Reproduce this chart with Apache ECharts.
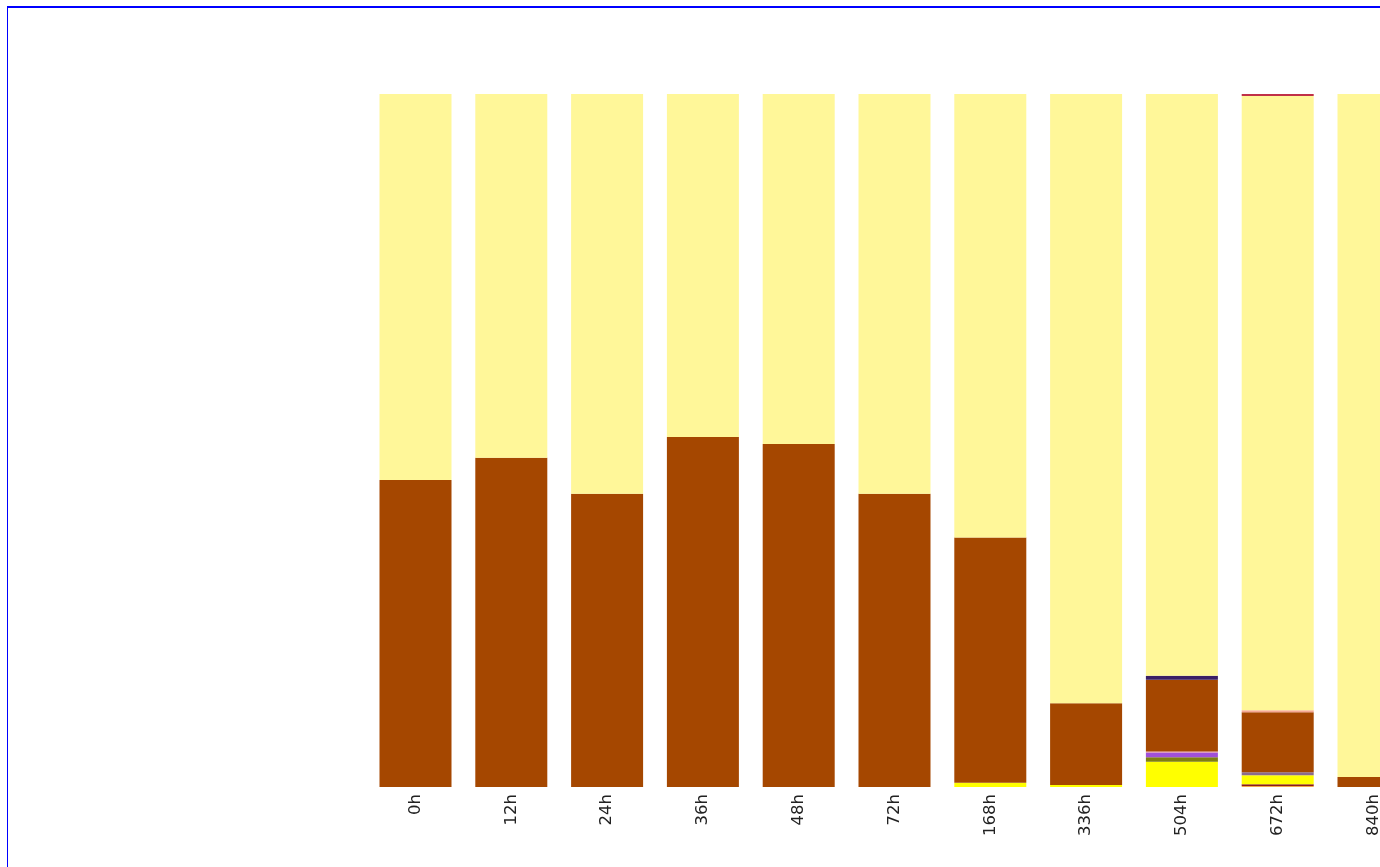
<!DOCTYPE html>
<html>
<head>
<meta charset="utf-8">
<script src="https://cdn.jsdelivr.net/npm/echarts@6/dist/echarts.min.js"></script>
<style>
html,body{margin:0;padding:0;background:#fff;overflow:hidden;width:1380px;height:867px;}
#chart{position:absolute;left:0;top:0;width:1500px;height:867px;}
#frame{position:absolute;left:7px;top:6px;width:1600px;height:1000px;border-top:2px solid #0000ff;border-left:1px solid #0000ff;pointer-events:none;}
</style>
</head>
<body>
<div id="chart"></div>
<div id="frame"></div>
<script>
const categories = ['0h','12h','24h','36h','48h','72h','168h','336h','504h','672h','840h'];

// percentages, stacked bottom to top
const orange    = [0,0,0,0,0,0,0,0,0,0.15,0];
const darkRed   = [0,0,0,0,0,0,0,0,0,0.25,0];
const yellow    = [0,0,0,0,0,0,0.6,0.3,3.65,1.3,0];
const olive     = [0,0,0,0,0,0,0,0,0.63,0,0];
const purple    = [0,0,0,0,0,0,0,0,0.7,0,0];
const mauve     = [0,0,0,0,0,0,0,0,0,0.43,0];
const pink      = [0,0,0,0,0,0,0,0,0.15,0,0];
const brown     = [44.3,47.5,42.3,50.5,49.5,42.3,35.4,11.8,10.35,8.66,1.44];
const navy      = [0,0,0,0,0,0,0,0,0.58,0,0];
const salmon    = [0,0,0,0,0,0,0,0,0,0.29,0];
const lightYel  = [55.7,52.5,57.7,49.5,50.5,57.7,64.0,87.9,83.94,88.63,98.56];
const crimson   = [0,0,0,0,0,0,0,0,0,0.29,0];

const seriesDefs = [
  ['orange', orange, '#f0a64a'],
  ['darkRed', darkRed, '#8b1c1c'],
  ['yellow', yellow, '#ffff00'],
  ['olive', olive, '#7f7f10'],
  ['purple', purple, '#a050d8'],
  ['mauve', mauve, '#8c6a8c'],
  ['pink', pink, '#e890a0'],
  ['brown', brown, '#a54700'],
  ['navy', navy, '#3a1f66'],
  ['salmon', salmon, '#f6a896'],
  ['lightYellow', lightYel, '#fff799'],
  ['crimson', crimson, '#c03048']
];

const chart = echarts.init(document.getElementById('chart'), null, {renderer:'canvas'});
chart.setOption({
  animation:false,
  backgroundColor:'#ffffff',
  grid:{left:367.6, top:94, width:1053.8, height:693, containLabel:false},
  xAxis:{
    type:'category', data:categories,
    axisLine:{show:false}, axisTick:{show:false},
    axisLabel:{rotate:90, margin:7, fontFamily:'DejaVu Sans', fontSize:16.5, color:'#222'}
  },
  yAxis:{type:'value', min:0, max:100, show:false, splitLine:{show:false}},
  series: seriesDefs.map(([name, data, color]) => ({
    name, type:'bar', stack:'total', data, barWidth:72,
    itemStyle:{color}, emphasis:{disabled:true}
  }))
});
</script>
</body>
</html>
